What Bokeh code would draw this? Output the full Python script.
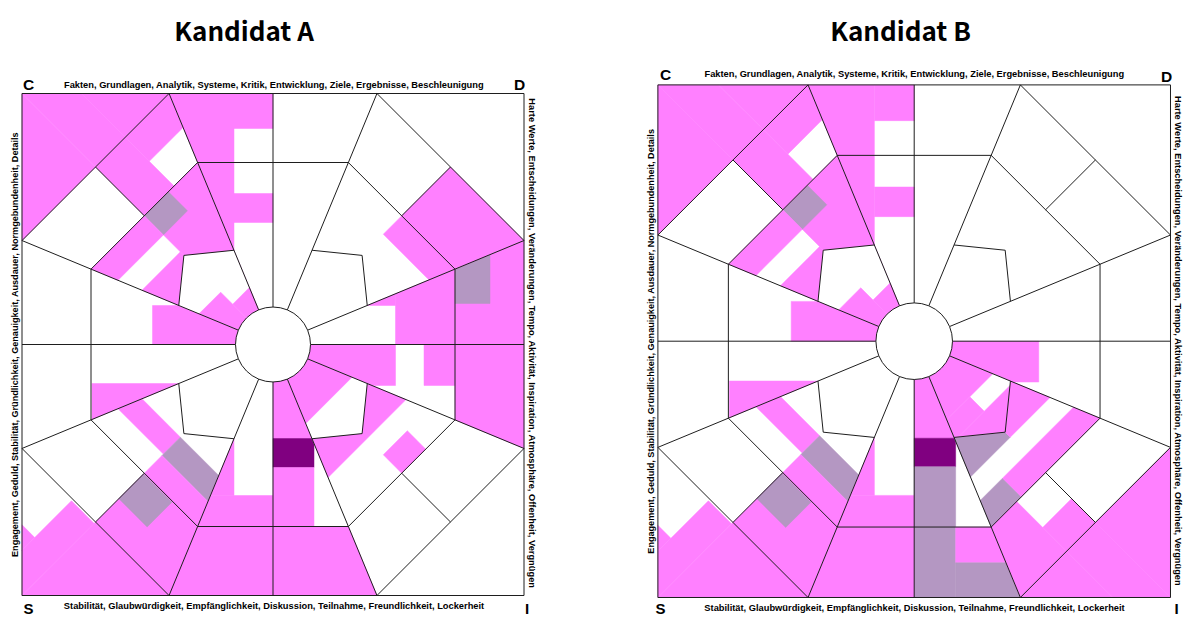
import math
from bokeh.plotting import figure
from bokeh.models import Range1d
from bokeh.embed import file_html
from bokeh.resources import INLINE
from bokeh.core.properties import value

# ---------------- texts ----------------
chart_titles = ["Kandidat A", "Kandidat B"]
corner_letters = ["C", "D", "S", "I"]
label_top = "Fakten, Grundlagen, Analytik, Systeme, Kritik, Entwicklung, Ziele, Ergebnisse, Beschleunigung"
label_left = "Engagement, Geduld, Stabilität, Gründlichkeit, Genauigkeit, Ausdauer, Normgebundenheit, Details"
label_right = "Harte Werte, Entscheidungen, Veränderungen, Tempo, Aktivität, Inspiration, Atmosphäre, Offenheit, Vergnügen"
label_bottom = "Stabilität, Glaubwürdigkeit, Empfänglichkeit, Diskussion, Teilnahme, Freundlichkeit, Lockerheit"

# ---------------- wheel structure (units: half side of the square) ----------------
HALF = 251.0
HUB_R = 37.5
RING_U = 182.0
KITE_R = 102.0
KITE_APEX = 126.0

# ---------------- filled blocks, sector-local (u outward, v across) ----------------
# sector k points to 45*k degrees; layer "w" = whole sector, "p" = inner pentagon
a_sector = [0, 0, 0, 0, 0, 0, 1, 2, 2, 2, 3, 3, 3, 3, 3, 3, 3, 3, 3, 4, 4,
            5, 5, 5, 5, 5, 5, 5, 6, 6, 6, 6, 6, 6, 7, 7, 7]
a_layer = ["w", "w", "w", "w", "w", "w", "w", "w", "w", "w", "w", "w", "w", "w", "w", "w", "w", "p", "p",
           "w", "w", "w", "w", "w", "w", "w", "w", "w", "w", "w", "w", "w", "w", "w", "w", "w", "p"]
a_u0 = [122.5, 0, 182, 0, 151, 182, 156, 0, 122, 216, 0, 155, 0, 155, 182, 217, 251, 0, 0,
        0, 92.5, 131, 131, 157, 182, 183, 253, 305, 0, 94, 123, 182, 94, 151, 0, 156, 0]
a_u1 = [400, 122.5, 217, 122.5, 182, 400, 251, 400, 151, 400, 182, 182, 131, 182, 400, 400, 400, 57, 74,
        120.5, 181, 155, 157, 182, 400, 218, 400, 400, 94, 123, 182, 400, 151, 400, 133, 182, 79]
a_v0 = [0, 39, 41, -41, -41, -400, -400, 39, 0, 0, -400, -34, 0, 0, -42, -400, 0, -400, 0,
        -39, 39, -400, 0, 0, 0, 0, -32, -400, 0, 0, 0, 0, -400, -400, -400, 0, -400]
a_v1 = [400, 400, 400, 0, 0, 0, 0, 400, 39, 39, 0, 0, 400, 400, 0, -42, 400, 0, 400,
        0, 400, 0, 400, 400, 400, 40, 0, -32, 41, 41, 41, 400, -39, 0, 400, 34, 400]
a_shade = ["P", "P", "G", "P", "P", "P", "P", "P", "P", "P", "P", "G", "P", "P", "P", "P", "P", "P", "P",
           "P", "P", "P", "G", "P", "P", "G", "P", "P", "P", "D", "P", "P", "P", "P", "P", "P", "P"]

b_sector = [0, 2, 2, 2, 3, 3, 3, 3, 3, 3, 3, 3, 3, 4, 4, 5, 5, 5, 5, 5, 5, 5,
            6, 6, 6, 6, 6, 6, 6, 7, 7, 7, 7, 7, 7, 7, 7, 7, 7]
b_layer = ["w", "w", "w", "w", "w", "w", "w", "w", "w", "w", "w", "p", "p", "w", "w",
           "w", "w", "w", "w", "w", "w", "w", "w", "w", "w", "w", "w", "w", "w",
           "w", "w", "w", "w", "w", "w", "w", "p", "p", "p"]
b_u0 = [0, 0, 122, 216, 0, 155, 0, 155, 182, 217, 251, 0, 0, 0, 92.5,
        131, 131, 157, 182, 183, 253, 305, 0, 95, 123, 182, 217, 94, 151,
        0, 0, 156, 156, 182, 218, 251, 0, 77, 97]
b_u1 = [122, 400, 151, 400, 182, 182, 131, 182, 400, 400, 400, 57, 74, 120.5, 181,
        155, 157, 182, 400, 218, 400, 400, 95, 123, 400, 217, 400, 151, 400,
        133, 133, 182, 182, 400, 400, 400, 77, 97, 400]
b_v0 = [-40, 39, 0, 0, -400, -34, 0, 0, -42, -400, 0, -400, 0, -39, 39,
        -400, 0, 0, 0, 0, -32, -400, 0, 0, 0, 40.6, 40.6, -400, -400,
        -400, 0, -34, -400, -400, -40, 0, -400, -400, -400]
b_v1 = [0, 400, 39, 39, 0, 0, 400, 400, 0, -42, 400, 0, 400, 0, 400,
        0, 400, 400, 400, 40, 0, -32, 40.6, 40.6, 40.6, 400, 400, -39, 0,
        0, 400, 400, -34, -40, 0, 400, 400, 0, 400]
b_shade = ["P", "P", "P", "P", "P", "G", "P", "P", "P", "P", "P", "P", "P", "P", "P",
           "P", "G", "P", "P", "G", "P", "P", "P", "D", "G", "P", "G", "P", "P",
           "G", "P", "P", "G", "P", "P", "P", "P", "P", "P"]

SHADE_COLORS = {"P": "#FF80FF", "G": "#B497C2", "D": "#800080"}
LINE_COLOR = "#1e1e1e"

# ---------------- layout (page pixels) ----------------
FIG_W, FIG_H = 1190, 617
wheel_cx = [272.5, 913.7]
wheel_cy = [344.0, 340.7]
wheel_scale = [1.0, 1.0211]

R_EDGE = HALF / math.cos(math.radians(22.5))
TAN = math.tan(math.radians(22.5))


def polar(r, deg):
    a = math.radians(deg)
    return (r * math.cos(a), r * math.sin(a))


def uv(k, u, v):
    th = math.radians(45 * k)
    c, s = math.cos(th), math.sin(th)
    return (u * c - v * s, u * s + v * c)


def wedge(k):
    th = 45 * k
    pts = [(0.0, 0.0), polar(R_EDGE, th - 22.5)]
    if k % 2 == 1:
        pts.append(polar(HALF * math.sqrt(2), th))
    pts.append(polar(R_EDGE, th + 22.5))
    return pts


def kite(k):
    th = 45 * k
    return [(0.0, 0.0), polar(KITE_R, th - 22.5), polar(KITE_APEX, th), polar(KITE_R, th + 22.5)]


def clip(subject, clipper):
    out = list(subject)
    n = len(clipper)
    for i in range(n):
        if not out:
            break
        ax, ay = clipper[i]
        bx, by = clipper[(i + 1) % n]

        def side(p):
            return (bx - ax) * (p[1] - ay) - (by - ay) * (p[0] - ax)

        inp, out = out, []
        prev = inp[-1]
        sp = side(prev)
        for cur in inp:
            sc = side(cur)
            if sc >= 0:
                if sp < 0:
                    t = sp / (sp - sc)
                    out.append((prev[0] + t * (cur[0] - prev[0]), prev[1] + t * (cur[1] - prev[1])))
                out.append(cur)
            elif sp >= 0:
                t = sp / (sp - sc)
                out.append((prev[0] + t * (cur[0] - prev[0]), prev[1] + t * (cur[1] - prev[1])))
            prev, sp = cur, sc
    return out


p = figure(width=FIG_W, height=FIG_H, x_range=Range1d(0, FIG_W), y_range=Range1d(FIG_H, 0),
           output_backend="svg", toolbar_location=None, min_border=0,
           x_axis_location=None, y_axis_location=None)
p.grid.visible = False
p.outline_line_color = None
p.background_fill_color = "white"
p.border_fill_color = "white"

charts = [
    (a_sector, a_layer, a_u0, a_u1, a_v0, a_v1, a_shade),
    (b_sector, b_layer, b_u0, b_u1, b_v0, b_v1, b_shade),
]

for w, (sec, lay, u0s, u1s, v0s, v1s, shades) in enumerate(charts):
    cx, cy, sc = wheel_cx[w], wheel_cy[w], wheel_scale[w]

    def fx(pts):
        return [cx + x * sc for x, _ in pts]

    def fy(pts):
        return [cy - y * sc for _, y in pts]

    def block_polys(layer):
        xs, ys, cols = [], [], []
        for k, l, u0, u1, v0, v1, sh in zip(sec, lay, u0s, u1s, v0s, v1s, shades):
            if l != layer:
                continue
            rect = [uv(k, u0, v0), uv(k, u1, v0), uv(k, u1, v1), uv(k, u0, v1)]
            region = wedge(k) if layer == "w" else kite(k)
            poly = clip(rect, region)
            if len(poly) >= 3:
                xs.append(fx(poly))
                ys.append(fy(poly))
                cols.append(SHADE_COLORS[sh])
        return xs, ys, cols

    # sector fills
    xs, ys, cols = block_polys("w")
    p.patches(xs, ys, fill_color=cols, line_color=cols, line_width=0.5)
    # blank pentagons, then their fills
    kx = [fx(kite(k)) for k in (1, 3, 5, 7)]
    ky = [fy(kite(k)) for k in (1, 3, 5, 7)]
    p.patches(kx, ky, fill_color="white", line_color=None)
    xs, ys, cols = block_polys("p")
    if xs:
        p.patches(xs, ys, fill_color=cols, line_color=cols, line_width=0.5)

    # structure lines
    segs = []
    sq = [(-HALF, -HALF), (HALF, -HALF), (HALF, HALF), (-HALF, HALF), (-HALF, -HALF)]
    segs.append(sq)
    for k in range(8):
        th = 45 * k
        segs.append([polar(HUB_R, th + 22.5), polar(R_EDGE, th + 22.5)])
        segs.append([uv(k, RING_U, -RING_U * TAN), uv(k, RING_U, RING_U * TAN)])
        if k % 2 == 0:
            segs.append([uv(k, HUB_R, 0), uv(k, HALF, 0)])
        else:
            segs.append([polar(R_EDGE, th - 22.5), polar(R_EDGE, th + 22.5)])
            segs.append([uv(k, RING_U, 0), uv(k, HALF, 0)])
            kp = kite(k)
            segs.append([kp[1], kp[2], kp[3]])
    p.multi_line([fx(s) for s in segs], [fy(s) for s in segs], line_color=LINE_COLOR, line_width=1)

    # hub
    p.circle(x=[cx], y=[cy], radius=HUB_R * sc, fill_color="white", line_color=LINE_COLOR, line_width=1)

# ---------------- texts ----------------
title_x = [243.5, 900]
title_y = [29, 29]
p.text(x=title_x, y=title_y, text=chart_titles, text_font=value("Noto Sans CJK JP"),
       text_font_size="26px", text_font_style="bold", text_align="center",
       text_baseline="middle", text_color="black")

# top corner letters
p.text(x=[28, 519, 665, 1166], y=[84, 84, 74, 75.5], text=corner_letters[:2] * 2,
       text_font=value("Liberation Sans"), text_font_size="15.5px", text_font_style="bold",
       text_align="center", text_baseline="alphabetic", text_color="black")
# bottom corner letters
p.text(x=[28, 526.5, 660, 1176], y=[616, 616, 616, 616], text=corner_letters[2:] * 2,
       text_font=value("Liberation Sans"), text_font_size="15px", text_font_style="bold",
       text_align="center", text_baseline="bottom", text_color="black")

top_x = [273.5, 914]
top_y = [84.5, 73]
p.text(x=top_x, y=top_y, text=[label_top] * 2, text_font=value("Liberation Sans"),
       text_font_size="9.3px", text_font_style="bold", text_align="center",
       text_baseline="middle", text_color="black")
bot_x = [273.5, 914]
bot_y = [605, 607]
p.text(x=bot_x, y=bot_y, text=[label_bottom] * 2, text_font=value("Liberation Sans"),
       text_font_size="9.3px", text_font_style="bold", text_align="center",
       text_baseline="middle", text_color="black")
left_x = [14, 650]
left_y = [344, 340.7]
p.text(x=left_x, y=left_y, text=[label_left] * 2, text_font=value("Liberation Sans"),
       text_font_size="9.1px", text_font_style="bold", text_align="center",
       text_baseline="middle", text_color="black", angle=math.pi / 2)
right_x = [531, 1177.5]
right_y = [343, 340.7]
p.text(x=right_x, y=right_y, text=[label_right] * 2, text_font=value("Liberation Sans"),
       text_font_size="9.3px", text_font_style="bold", text_align="center",
       text_baseline="middle", text_color="black", angle=-math.pi / 2)

open("out.html", "w").write(file_html(p, INLINE))
